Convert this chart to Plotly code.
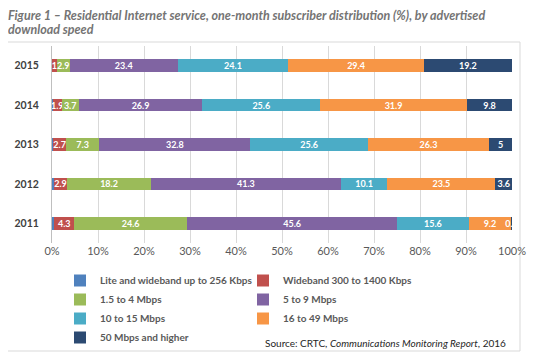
import plotly.graph_objects as go

years = ["2011", "2012", "2013", "2014", "2015"]
series_names = ["Lite and wideband up to 256 Kbps", "Wideband 300 to 1400 Kbps", "1.5 to 4 Mbps",
                "5 to 9 Mbps", "10 to 15 Mbps", "16 to 49 Mbps", "50 Mbps and higher"]
lite = [0.5, 0.4, 0.3, 0.2, 0.0]
wideband = [4.3, 2.9, 2.7, 1.9, 1.0]
m1_5_4 = [24.6, 18.2, 7.3, 3.7, 2.9]
m5_9 = [45.6, 41.3, 32.8, 26.9, 23.4]
m10_15 = [15.6, 10.1, 25.6, 25.6, 24.1]
m16_49 = [9.2, 23.5, 26.3, 31.9, 29.4]
m50 = [0.2, 3.6, 5.0, 9.8, 19.2]
x_ticks = [0, 10, 20, 30, 40, 50, 60, 70, 80, 90, 100]
x_tick_labels = ["0%", "10%", "20%", "30%", "40%", "50%", "60%", "70%", "80%", "90%", "100%"]

colors = ["#4F81BD", "#C0504D", "#9BBB59", "#8064A2", "#4BACC6", "#F79646", "#2C4A72"]
values = [lite, wideband, m1_5_4, m5_9, m10_15, m16_49, m50]
legend_of = ["legend", "legend2", "legend", "legend2", "legend", "legend2", "legend"]

# page offset (body margin) compensation
OFF = 8
W, H = 539, 358
L, R, T, B = 52 - OFF, 512 - OFF, 46 - OFF, 243 - OFF  # plot box in figure px
PW, PH = R - L, B - T


def px_x(ref):
    return ((ref - OFF) - L) / PW


def px_y(ref):
    return (B - (ref - OFF)) / PH


FONT = "Lato"
fig = go.Figure()
for i, (name, vals) in enumerate(zip(series_names, values)):
    if i == 0:
        txt = ["" for v in vals]
    else:
        txt = [("%g" % v) if v > 0 else "" for v in vals]
    fig.add_trace(go.Bar(
        y=years, x=vals, name=name, orientation="h",
        marker=dict(color=colors[i], line=dict(width=0)),
        text=txt, textposition="inside", insidetextanchor="middle",
        textangle=0, constraintext="none",
        textfont=dict(family=FONT, size=9, color="white", weight="bold"),
        legend=legend_of[i],
    ))

legend_font = dict(family=FONT, size=10, color="#595959", weight="bold")
fig.update_layout(
    width=W, height=H,
    barmode="stack", bargap=0.68,
    paper_bgcolor="white", plot_bgcolor="white",
    margin=dict(l=L, r=W - R, t=T, b=H - B),
    font=dict(family=FONT, color="#404040"),
    uniformtext=dict(minsize=9, mode="show"),
    xaxis=dict(range=[0, 100], tickmode="array", tickvals=x_ticks, ticktext=x_tick_labels,
               showgrid=True, gridcolor="#d9d9d9", gridwidth=1,
               zeroline=False, showline=False, automargin=False,
               tickfont=dict(family=FONT, size=11, color="#595959"), ticks=""),
    yaxis=dict(showgrid=False, showline=True, linecolor="#bfbfbf", linewidth=1,
               ticks="", ticklabelstandoff=10, automargin=False,
               tickfont=dict(family=FONT, size=10.5, color="#404040", weight="bold")),
    legend=dict(x=px_x(60), y=px_y(266), xanchor="left", yanchor="top",
                orientation="v", traceorder="normal", bgcolor="rgba(0,0,0,0)",
                font=legend_font, itemwidth=30, tracegroupgap=0),
    legend2=dict(x=px_x(243), y=px_y(266), xanchor="left", yanchor="top",
                 orientation="v", traceorder="normal", bgcolor="rgba(0,0,0,0)",
                 font=legend_font, itemwidth=30, tracegroupgap=0),
    showlegend=True,
)

# outer frame
fig.add_shape(type="rect", xref="paper", yref="paper",
              x0=px_x(7), x1=px_x(520), y0=px_y(351), y1=px_y(42),
              line=dict(color="#d9d9d9", width=1), fillcolor="rgba(0,0,0,0)", layer="below")

title_font = dict(family=FONT, size=12.5, color="#747474", style="italic", weight="bold")
fig.add_annotation(
    text="Figure 1 – Residential Internet service, one-month subscriber distribution (%), by advertised",
    xref="paper", yref="paper", x=px_x(6), y=px_y(16),
    xanchor="left", yanchor="middle", align="left", showarrow=False, font=title_font)
fig.add_annotation(
    text="download speed",
    xref="paper", yref="paper", x=px_x(6), y=px_y(30),
    xanchor="left", yanchor="middle", align="left", showarrow=False, font=title_font)

fig.add_annotation(
    text="Source: CRTC, <i>Communications Monitoring Report</i>, 2016",
    xref="paper", yref="paper", x=px_x(508), y=px_y(343),
    xanchor="right", yanchor="middle", showarrow=False,
    font=dict(family=FONT, size=10, color="#262626"))

fig.write_html("out.html")
